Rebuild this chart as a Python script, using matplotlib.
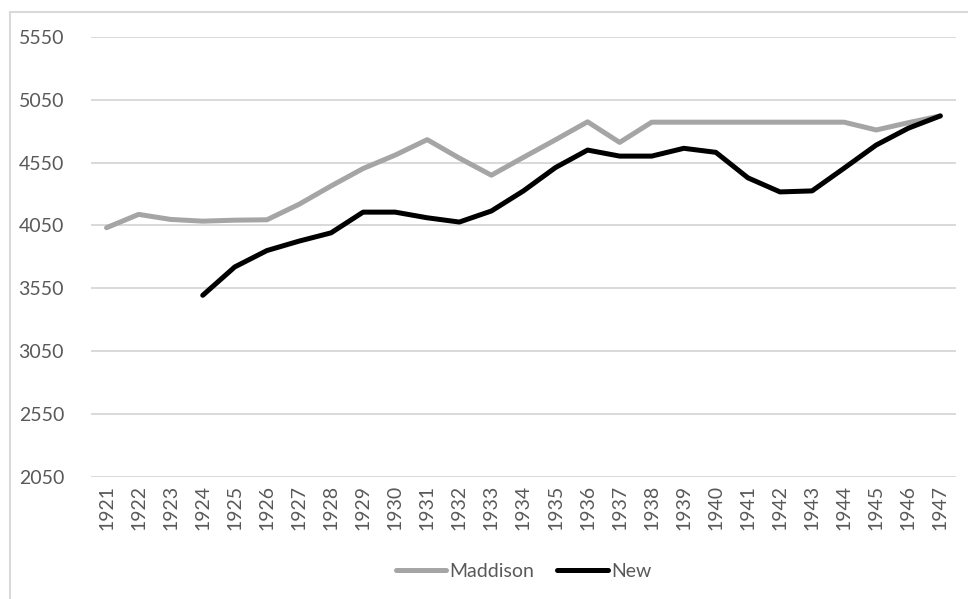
import matplotlib
matplotlib.use("Agg")
import matplotlib.pyplot as plt
from matplotlib.patches import Rectangle

plt.rcParams["font.family"] = ["Lato", "DejaVu Sans"]

years = list(range(1921, 1948))
maddison = [4032, 4138, 4098, 4084, 4092, 4095, 4218, 4364, 4503, 4610,
            4733, 4586, 4450, 4592, 4732, 4875, 4711, 4872, 4872, 4872,
            4872, 4872, 4872, 4872, 4810, 4868, 4922]
new_years = list(range(1924, 1948))
new = [3494, 3720, 3850, 3925, 3991, 4156, 4156, 4111, 4077, 4165,
       4325, 4511, 4650, 4602, 4602, 4664, 4632, 4429, 4317, 4325,
       4506, 4690, 4824, 4922]
yticks = [2050, 2550, 3050, 3550, 4050, 4550, 5050, 5550]

label_col = "#595959"
grid_col = "#D9D9D9"

fig = plt.figure(figsize=(9.68, 5.99), dpi=100)
ax = fig.add_axes([0.0935, 0.2042, 0.8945, 0.734])

xs = range(len(years))
off = years.index(new_years[0])
ax.plot(xs, maddison, color="#A5A5A5", lw=3.6, solid_capstyle="round",
        solid_joinstyle="round", label="Maddison", zorder=3)
ax.plot([off + i for i in range(len(new))], new, color="black", lw=3.6,
        solid_capstyle="round", solid_joinstyle="round", label="New", zorder=4)

ax.set_xlim(-0.5, len(years) - 0.5)
ax.set_ylim(yticks[0], yticks[-1])
ax.set_yticks(yticks)
ax.set_xticks(list(xs))
ax.set_xticklabels([str(y) for y in years], rotation=90)
ax.tick_params(axis="both", length=0, labelsize=14, colors=label_col)
ax.tick_params(axis="y", pad=19)
ax.tick_params(axis="x", pad=6)
ax.grid(axis="y", color=grid_col, lw=1.4)
ax.set_axisbelow(True)
for s in ax.spines.values():
    s.set_visible(False)

leg = ax.legend(loc="center", bbox_to_anchor=(0.5, -0.216), ncol=2,
                frameon=False, fontsize=14, handlelength=2.6,
                handletextpad=0.15, columnspacing=1.2)
for t in leg.get_texts():
    t.set_color(label_col)

# chart border
fig.patches.append(Rectangle((10 / 968, -0.01), 1.0, 1 - 12 / 599 + 0.01,
                             transform=fig.transFigure, fill=False,
                             edgecolor=grid_col, lw=1.5))

fig.savefig("out.png", dpi=100)
